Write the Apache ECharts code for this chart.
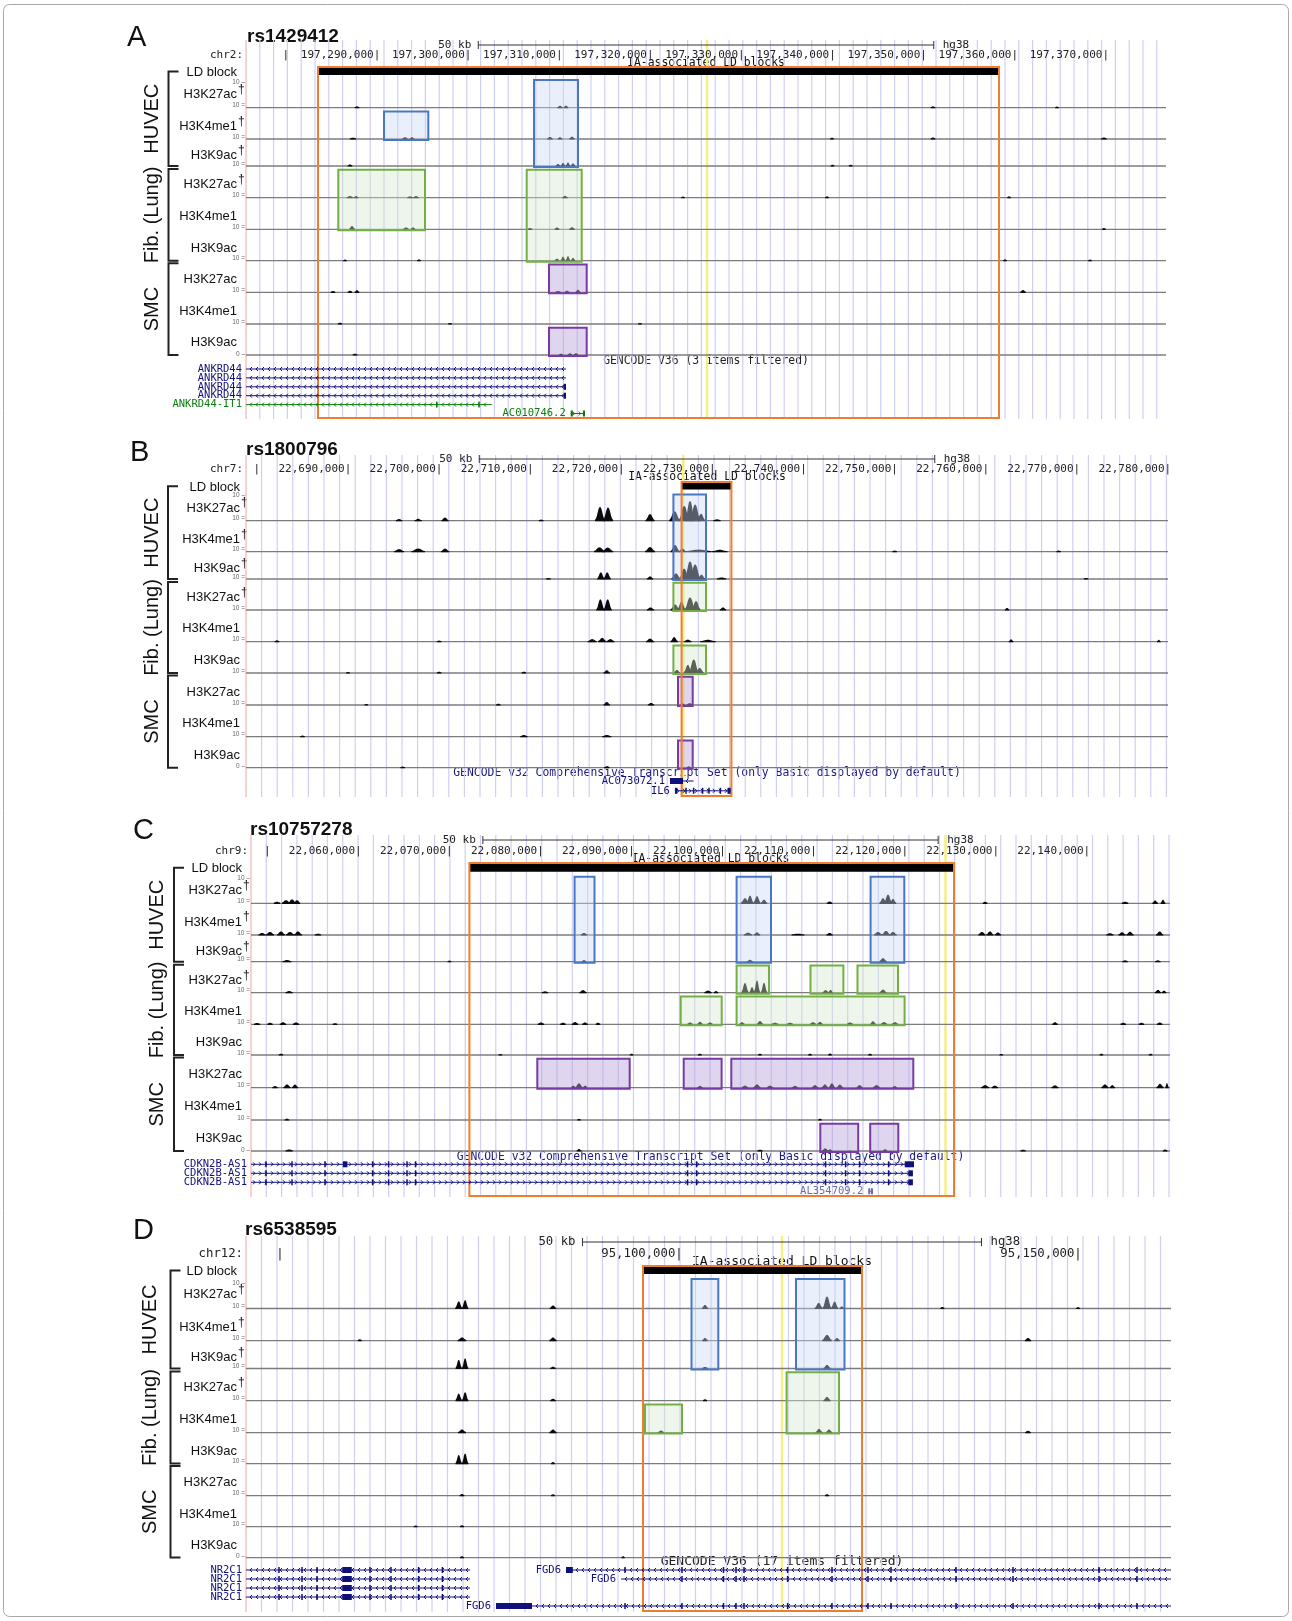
<!DOCTYPE html>
<html>
<head>
<meta charset="utf-8">
<title>IA-associated LD blocks</title>
<script src="https://cdn.jsdelivr.net/npm/echarts@6/dist/echarts.min.js"></script>
<style>
html, body { margin: 0; padding: 0; background: #fff; }
#chart { width: 1292px; height: 1621px; }
</style>
</head>
<body>
<div id="chart"></div>
<script>
// ---------- data ----------
const TRACK_MARKS = ['H3K27ac', 'H3K4me1', 'H3K9ac', 'H3K27ac', 'H3K4me1', 'H3K9ac', 'H3K27ac', 'H3K4me1', 'H3K9ac']
const TRACK_DAGGER = [true, true, true, true, false, false, false, false, false]
const CELL_TYPES = ['HUVEC', 'Fib. (Lung)', 'SMC']
const LD_TRACK_TITLE = 'IA-associated LD blocks'

// panel A  rs1429412
const A_SNP = 'rs1429412'
const A_CHR = 'chr2'
const A_RANGE = [197275620, 197376608]
const A_RULER = [197280000, 197290000, 197300000, 197310000, 197320000, 197330000, 197340000, 197350000, 197360000, 197370000]
const A_LD = [197283523, 197358277]
const A_SNP_POS = 197326225
const A_GENCODE = 'GENCODE V36 (3 items filtered)'
// [start, end, first track, last track, cell type]
const A_BOXES = [
  [197290768, 197295631, 1, 1, 0], [197307234, 197312064, 0, 2, 0],
  [197285752, 197295269, 3, 4, 1], [197306432, 197312469, 3, 5, 1],
  [197308880, 197313019, 6, 6, 2], [197308880, 197313019, 8, 8, 2]
]
// per track: [centre bp, width bp, signal 0-10]
const A_PEAKS = [
  [[197287805, 500, 0.3], [197310088, 600, 0.5], [197310746, 500, 0.6], [197351032, 500, 0.3], [197364643, 400, 0.2]],
  [[197287365, 700, 0.3], [197293073, 600, 0.5], [197293842, 500, 0.5], [197308990, 600, 0.6], [197310088, 500, 0.5], [197311405, 600, 0.7], [197339945, 400, 0.3], [197351032, 500, 0.4], [197369800, 600, 0.4]],
  [[197287036, 500, 0.4], [197309868, 500, 0.6], [197310417, 500, 1.0], [197310966, 500, 1.2], [197311515, 500, 0.8], [197340000, 400, 0.3], [197342000, 400, 0.3]],
  [[197287036, 700, 0.4], [197287700, 500, 0.4], [197293622, 600, 0.3], [197294281, 600, 0.4], [197310637, 600, 0.5], [197323590, 400, 0.2], [197339397, 400, 0.3], [197359375, 400, 0.3]],
  [[197287256, 600, 1.1], [197293183, 600, 0.5], [197293952, 500, 0.5], [197306795, 500, 0.3], [197309759, 500, 0.5], [197311405, 600, 0.6], [197369800, 400, 0.3]],
  [[197309759, 500, 0.6], [197310417, 500, 1.4], [197310966, 500, 1.6], [197311515, 500, 0.9], [197286487, 400, 0.2], [197294610, 400, 0.3], [197358936, 400, 0.3], [197368266, 400, 0.2]],
  [[197285170, 500, 0.3], [197287036, 500, 0.4], [197287805, 500, 0.6], [197309868, 600, 0.3], [197310856, 500, 0.4], [197312064, 500, 0.8], [197360912, 600, 0.7]],
  [[197285938, 500, 0.3], [197298013, 400, 0.2], [197318869, 400, 0.2]],
  [[197287585, 500, 0.3], [197310198, 500, 0.3], [197311186, 500, 0.5], [197311845, 500, 0.5]]
]
const A_GENES = [
  { name: 'ANKRD44', s: 197250000, e: 197310746, row: 0, strand: -1, col: 0 },
  { name: 'ANKRD44', s: 197250000, e: 197310746, row: 1, strand: -1, col: 0 },
  { name: 'ANKRD44', s: 197250000, e: 197310746, row: 2, strand: -1, col: 0, blocks: [[197310500, 197310746]] },
  { name: 'ANKRD44', s: 197250000, e: 197310746, row: 3, strand: -1, col: 0, blocks: [[197310500, 197310746]] },
  { name: 'ANKRD44-IT1', s: 197250000, e: 197302591, row: 4, strand: -1, col: 1, exons: [197296553, 197301196] },
  { name: 'AC010746.2', s: 197311262, e: 197312832, row: 5, strand: 1, col: 1, blocks: [[197311262, 197311500], [197312600, 197312832]] }
]

// panel B  rs1800796
const B_SNP = 'rs1800796'
const B_CHR = 'chr7'
const B_RANGE = [22678800, 22780008]
const B_RULER = [22680000, 22690000, 22700000, 22710000, 22720000, 22730000, 22740000, 22750000, 22760000, 22770000, 22780000]
const B_LD = [22726615, 22732083]
const B_SNP_POS = 22726800
const B_GENCODE = 'GENCODE v32 Comprehensive Transcript Set (only Basic displayed by default)'
const B_BOXES = [
  [22725716, 22729295, 0, 2, 0], [22725716, 22729295, 3, 3, 1], [22725716, 22729295, 5, 5, 1],
  [22726221, 22727834, 6, 6, 2], [22726221, 22727834, 8, 8, 2]
]
const B_PEAKS = [
  [[22695600, 700, 0.4], [22697700, 800, 0.5], [22700640, 800, 1.0], [22711200, 500, 0.2], [22717660, 1100, 5.2], [22718540, 1100, 5.0], [22723150, 1000, 2.4], [22725850, 1200, 3.5], [22726900, 1200, 5.6], [22727540, 1100, 7.6], [22728100, 1200, 6.2], [22728750, 900, 2.5], [22730500, 800, 0.3]],
  [[22695600, 1100, 0.8], [22697700, 1500, 1.0], [22700650, 900, 1.0], [22717600, 1200, 1.5], [22718500, 1200, 1.4], [22723150, 1100, 1.6], [22725900, 1000, 2.4], [22726700, 800, 1.0], [22728500, 2800, 0.6], [22730800, 1700, 0.5], [22750000, 500, 0.2], [22768000, 500, 0.2]],
  [[22712000, 500, 0.2], [22717750, 800, 2.4], [22718450, 800, 2.4], [22723150, 700, 0.8], [22726000, 1000, 2.0], [22726900, 1100, 3.9], [22727540, 1200, 6.8], [22728100, 1200, 5.6], [22728800, 800, 1.5], [22731000, 1000, 0.4], [22771000, 500, 0.2]],
  [[22717700, 900, 4.0], [22718500, 900, 4.0], [22723200, 800, 0.8], [22725900, 1000, 2.0], [22726600, 900, 3.1], [22727540, 1200, 4.8], [22728200, 1000, 3.3], [22731160, 700, 0.8], [22762340, 500, 0.6]],
  [[22682200, 500, 0.3], [22700000, 500, 0.2], [22716800, 1000, 0.8], [22717900, 900, 1.3], [22718800, 900, 0.8], [22723150, 900, 1.0], [22725800, 800, 1.6], [22727300, 800, 0.6], [22729500, 1700, 0.5], [22762780, 500, 0.7], [22779000, 400, 0.5]],
  [[22690000, 400, 0.2], [22700000, 500, 0.3], [22709300, 500, 0.3], [22718400, 700, 0.9], [22726100, 700, 1.0], [22727300, 900, 3.0], [22727950, 1100, 5.2], [22728600, 900, 1.8]],
  [[22692000, 400, 0.2], [22706500, 500, 0.3], [22718400, 700, 1.0], [22723260, 700, 0.6], [22726700, 600, 0.4], [22727500, 700, 0.5]],
  [[22685000, 500, 0.2], [22709300, 800, 0.4], [22718400, 1000, 0.4]],
  [[22696000, 500, 0.2], [22718400, 600, 0.3], [22727400, 500, 0.3]]
]
const B_GENES = [
  { name: 'AC073072.1', s: 22725343, e: 22727933, row: 0, strand: -1, col: 0, blocks: [[22725343, 22726770]] },
  { name: 'IL6', s: 22725884, e: 22732002, row: 1, strand: 1, col: 0, blocks: [[22725884, 22726150], [22731650, 22732002]], exons: [22727099, 22727933, 22728921, 22729624, 22730876] }
]

// panel C  rs10757278
const C_SNP = 'rs10757278'
const C_CHR = 'chr9'
const C_RANGE = [22048210, 22149135]
const C_RULER = [22050000, 22060000, 22070000, 22080000, 22090000, 22100000, 22110000, 22120000, 22130000, 22140000]
const C_LD = [22072195, 22125415]
const C_SNP_POS = 22124478
const C_GENCODE = 'GENCODE v32 Comprehensive Transcript Set (only Basic displayed by default)'
const C_BOXES = [
  [22083748, 22085934, 0, 2, 0], [22101538, 22105316, 0, 2, 0], [22116254, 22119955, 0, 2, 0],
  [22101538, 22105096, 3, 3, 1], [22109654, 22113267, 3, 3, 1], [22114815, 22119263, 3, 3, 1],
  [22095400, 22099903, 4, 4, 1], [22101538, 22119988, 4, 4, 1],
  [22079651, 22089798, 6, 6, 2], [22095730, 22099892, 6, 6, 2], [22100957, 22120944, 6, 6, 2],
  [22110730, 22114893, 8, 8, 2], [22116211, 22119297, 8, 8, 2]
]
const C_PEAKS = [
  [[22051065, 700, 0.4], [22052054, 900, 1.0], [22052713, 900, 1.3], [22053262, 700, 1.0], [22102461, 900, 1.8], [22103010, 800, 2.8], [22103779, 800, 2.6], [22104548, 700, 1.2], [22111750, 600, 0.5], [22117617, 800, 1.8], [22118166, 900, 3.2], [22118715, 700, 1.5], [22128830, 500, 0.4], [22144200, 700, 0.4], [22147500, 600, 0.9], [22148367, 500, 1.2]],
  [[22049418, 800, 0.6], [22050297, 900, 1.0], [22051505, 900, 1.2], [22052493, 900, 1.0], [22053372, 900, 1.2], [22055568, 700, 0.3], [22084780, 700, 0.6], [22102790, 900, 0.7], [22103780, 700, 0.8], [22108283, 1400, 0.3], [22111750, 700, 0.6], [22117067, 900, 1.0], [22117946, 900, 1.4], [22118715, 800, 1.0], [22128479, 800, 1.0], [22129358, 800, 1.2], [22130236, 700, 0.8], [22142545, 800, 0.5], [22143863, 800, 0.9], [22144742, 800, 1.1], [22148000, 800, 1.2]],
  [[22052164, 1000, 0.4], [22070000, 400, 0.2], [22084780, 500, 0.4], [22103010, 700, 0.5], [22117617, 800, 1.2], [22144200, 600, 0.3], [22147800, 600, 0.3]],
  [[22052400, 800, 0.4], [22080497, 700, 0.3], [22084670, 800, 0.8], [22098398, 800, 0.6], [22099277, 500, 0.4], [22102461, 800, 3.6], [22103230, 600, 2.0], [22103779, 700, 4.6], [22104548, 700, 3.7], [22111311, 700, 0.8], [22111860, 500, 0.9], [22117617, 800, 1.0], [22147816, 700, 0.9], [22148477, 500, 0.6]],
  [[22048869, 700, 0.3], [22050297, 600, 0.4], [22051724, 700, 0.6], [22053152, 700, 0.5], [22057435, 500, 0.2], [22080058, 700, 0.5], [22082474, 600, 0.4], [22083792, 700, 0.7], [22084890, 600, 0.5], [22086318, 500, 0.4], [22096423, 600, 0.5], [22097521, 600, 0.8], [22098620, 600, 0.5], [22102130, 600, 0.6], [22104108, 700, 1.1], [22105755, 700, 0.4], [22107403, 700, 0.4], [22109929, 700, 0.6], [22110697, 600, 0.8], [22113992, 700, 0.5], [22116518, 600, 1.0], [22117726, 700, 0.7], [22118934, 700, 0.6], [22136503, 600, 0.6], [22144000, 600, 0.4], [22146000, 600, 0.4], [22148000, 600, 0.5]],
  [[22051500, 500, 0.3], [22075600, 400, 0.2], [22090000, 400, 0.3], [22097500, 400, 0.3], [22104100, 400, 0.3], [22109600, 400, 0.3], [22111800, 400, 0.4], [22116200, 400, 0.3], [22130600, 400, 0.2], [22141600, 400, 0.3], [22147000, 400, 0.3]],
  [[22050846, 600, 0.4], [22052164, 800, 1.1], [22053042, 700, 1.0], [22083600, 500, 0.6], [22084230, 800, 1.5], [22084900, 500, 0.6], [22097521, 600, 0.5], [22102461, 700, 0.6], [22103779, 800, 1.1], [22105206, 700, 0.6], [22107952, 700, 0.5], [22110148, 700, 0.8], [22111237, 700, 1.1], [22112006, 700, 1.5], [22112884, 700, 1.0], [22115045, 700, 0.8], [22116913, 800, 0.8], [22118900, 500, 0.4], [22128830, 900, 0.8], [22129900, 700, 0.6], [22136503, 800, 0.7], [22141994, 800, 1.1], [22142800, 600, 0.8], [22148040, 800, 1.3], [22148800, 400, 1.6]],
  [[22052164, 500, 0.3], [22084230, 400, 0.2], [22110697, 400, 0.3]],
  [[22052400, 800, 0.4], [22084230, 500, 0.6], [22104108, 600, 0.3], [22111270, 700, 0.8], [22111800, 400, 0.5], [22117836, 500, 0.5], [22133000, 600, 0.3], [22148600, 500, 0.4]]
]
const C_EXONS = [22049857, 22052713, 22056337, 22061564, 22063321, 22065342, 22066286, 22096155, 22097144, 22111311, 22113507, 22115045, 22118230]
const C_GENES = [
  { name: 'CDKN2B-AS1', s: 22000000, e: 22121020, row: 0, strand: 1, col: 0, exons: C_EXONS, blocks: [[22058300, 22058800], [22120000, 22121020]] },
  { name: 'CDKN2B-AS1', s: 22000000, e: 22120900, row: 1, strand: 1, col: 0, exons: C_EXONS, blocks: [[22120400, 22120900]] },
  { name: 'CDKN2B-AS1', s: 22000000, e: 22120900, row: 2, strand: 1, col: 0, exons: C_EXONS, blocks: [[22120400, 22120900]] },
  { name: 'AL354709.2', s: 22116000, e: 22116400, row: 3, strand: 0, col: 2, blocks: [[22116000, 22116100], [22116300, 22116400]] }
]

// panel D  rs6538595
const D_SNP = 'rs6538595'
const D_CHR = 'chr12'
const D_RANGE = [95045745, 95161648]
const D_RULER = [95050000, 95100000, 95150000]
const D_LD = [95095489, 95122930]
const D_SNP_POS = 95112906
const D_GENCODE = 'GENCODE V36 (17 items filtered)'
const D_BOXES = [
  [95101567, 95104925, 0, 2, 0], [95114660, 95120737, 0, 2, 0],
  [95095740, 95100376, 4, 4, 1], [95113483, 95120049, 3, 4, 1]
]
const D_PEAKS = [
  [[95072400, 900, 2.6], [95073200, 800, 3.1], [95084212, 800, 1.0], [95103258, 800, 1.2], [95117500, 1000, 2.0], [95118544, 1100, 4.6], [95119500, 900, 2.5], [95120400, 600, 0.6], [95133000, 500, 0.4], [95150000, 500, 0.3]],
  [[95060000, 500, 0.3], [95072810, 1100, 1.0], [95084212, 900, 1.0], [95103258, 700, 0.8], [95118544, 1200, 2.0], [95119800, 700, 0.8], [95143730, 800, 0.8]],
  [[95072400, 800, 3.2], [95073200, 800, 3.8], [95084212, 700, 0.5], [95103258, 700, 0.4], [95118544, 900, 1.2]],
  [[95072400, 800, 2.6], [95073200, 800, 3.1], [95084212, 700, 0.5], [95103258, 500, 0.3], [95118544, 900, 1.2]],
  [[95072810, 1000, 1.0], [95084212, 900, 1.0], [95097745, 800, 0.6], [95117543, 900, 1.2], [95118800, 800, 1.0], [95143730, 700, 0.5]],
  [[95072400, 800, 3.2], [95073200, 800, 3.8], [95084212, 500, 0.4]],
  [[95072810, 600, 0.4], [95084212, 500, 0.3], [95118544, 500, 0.3]],
  [[95067000, 500, 0.2], [95072810, 500, 0.3]],
  [[95072810, 500, 0.3], [95093000, 400, 0.3]]
]
const NR2C1_EXONS = [95049880, 95052762, 95054642, 95061282, 95063914, 95067372, 95070354]
const FGD6_EXONS = [95093234, 95100376, 95105576, 95107143, 95108145, 95113610, 95119170, 95123682, 95126564, 95134708, 95141850, 95152626, 95157387]
const D_GENES = [
  { name: 'NR2C1', s: 95000000, e: 95073812, row: 0, strand: -1, col: 0, exons: NR2C1_EXONS, blocks: [[95057800, 95059000]] },
  { name: 'NR2C1', s: 95000000, e: 95073812, row: 1, strand: -1, col: 0, exons: NR2C1_EXONS, blocks: [[95057800, 95059000]] },
  { name: 'NR2C1', s: 95000000, e: 95073812, row: 2, strand: -1, col: 0, exons: NR2C1_EXONS, blocks: [[95057800, 95059000]] },
  { name: 'NR2C1', s: 95000000, e: 95073812, row: 3, strand: -1, col: 0, exons: NR2C1_EXONS, blocks: [[95057800, 95059000]] },
  { name: 'FGD6', s: 95085841, e: 95200000, row: 0, strand: -1, col: 0, exons: FGD6_EXONS, blocks: [[95085841, 95086700]] },
  { name: 'FGD6', s: 95092733, e: 95200000, row: 1, strand: -1, col: 0, exons: FGD6_EXONS.slice(1) },
  { name: 'FGD6', s: 95077070, e: 95200000, row: 4, strand: -1, col: 0, exons: FGD6_EXONS, blocks: [[95077070, 95081580]] }
]

// ---------- layout (pixels on the page) ----------
const LAYOUT = [
  { letter: 'A', left: 246, right: 1166, top: 40, bottom: 419, letterX: 127, letterY: 38, titleX: 247, titleY: 36.5, scaleY: 45, rulerY: 55, ldLabelY: 63, ldTop: 68, ldBot: 75,
    base: [107.7, 139, 166, 197.7, 229.3, 260.7, 292.3, 324, 355], gencodeY: 361.5, geneTop: 369, geneStep: 8.9, center: 706, gridStep: 13.8, labelRight: 237, bracketX: 168.5, cellX: 152.5, gencodeCol: '#222', mono: 11, monoWide: 11.4 },
  { letter: 'B', left: 246, right: 1168, top: 455, bottom: 797, letterX: 130, letterY: 453, titleX: 246, titleY: 449.5, scaleY: 459, rulerY: 469, ldLabelY: 477.5, ldTop: 483, ldBot: 489.5,
    base: [520.7, 551.7, 579, 610, 641.7, 673, 705, 736.7, 767.7], gencodeY: 773, geneTop: 781, geneStep: 9.8, center: 707, gridStep: 15.6, labelRight: 240, bracketX: 168, cellX: 152, gencodeCol: '#1a1a80', mono: 11, monoWide: 11.4 },
  { letter: 'C', left: 251, right: 1170, top: 835, bottom: 1197, letterX: 133, letterY: 831, titleX: 250, titleY: 829.5, scaleY: 840, rulerY: 851, ldLabelY: 859, ldTop: 864, ldBot: 871.7,
    base: [903.3, 935, 961.7, 992.7, 1024.3, 1055, 1087.7, 1120, 1151], gencodeY: 1157, geneTop: 1164.3, geneStep: 9, center: 710.5, gridStep: 15.3, labelRight: 242, bracketX: 174, cellX: 157, gencodeCol: '#1a1a80', mono: 11, monoWide: 11.4 },
  { letter: 'D', left: 246, right: 1171, top: 1236, bottom: 1612, letterX: 133, letterY: 1231, titleX: 245, titleY: 1230, scaleY: 1242, rulerY: 1254, ldLabelY: 1262, ldTop: 1267, ldBot: 1274,
    base: [1308.5, 1340.6, 1368.5, 1400.6, 1432.6, 1463.6, 1495.6, 1526.6, 1557.6], gencodeY: 1562, geneTop: 1570, geneStep: 9, center: 782, gridStep: 15.5, labelRight: 237, bracketX: 170.5, cellX: 150, gencodeCol: '#222', mono: 12.3, monoWide: 13 }
]

const PANELS = [
  { snp: A_SNP, chr: A_CHR, range: A_RANGE, ruler: A_RULER, ld: A_LD, snpPos: A_SNP_POS, gencode: A_GENCODE, boxes: A_BOXES, peaks: A_PEAKS, genes: A_GENES },
  { snp: B_SNP, chr: B_CHR, range: B_RANGE, ruler: B_RULER, ld: B_LD, snpPos: B_SNP_POS, gencode: B_GENCODE, boxes: B_BOXES, peaks: B_PEAKS, genes: B_GENES },
  { snp: C_SNP, chr: C_CHR, range: C_RANGE, ruler: C_RULER, ld: C_LD, snpPos: C_SNP_POS, gencode: C_GENCODE, boxes: C_BOXES, peaks: C_PEAKS, genes: C_GENES },
  { snp: D_SNP, chr: D_CHR, range: D_RANGE, ruler: D_RULER, ld: D_LD, snpPos: D_SNP_POS, gencode: D_GENCODE, boxes: D_BOXES, peaks: D_PEAKS, genes: D_GENES }
]

// ---------- styles ----------
const MONO_FAMILY = '"DejaVu Sans Mono", monospace'
const GENE_FONT = '10.5px "DejaVu Sans Mono", monospace'
const SANS = '"Liberation Sans", Arial, sans-serif'
const UNIT_PX = 2.5 // pixels per signal unit (track scale 0-10)
const BOX_STROKE = ['#4a76c6', '#72b043', '#7a3aa6']
const BOX_FILL = ['rgba(202,217,245,0.4)', 'rgba(212,230,202,0.4)', 'rgba(185,162,217,0.45)']
const GENE_COL = ['#10107a', '#0b7d0b', '#6b6bb5']

function txt(x, y, s, font, fill, align, extra) {
  return Object.assign({
    type: 'text', x: x, y: y, silent: true,
    style: { text: s, font: font, fill: fill, textAlign: align, textVerticalAlign: 'middle', align: align, verticalAlign: 'middle' }
  }, extra || {})
}

function fmt(v) {
  return String(v).replace(/\B(?=(\d{3})+(?!\d))/g, ',')
}

const grids = []
const xAxes = []
const yAxes = []
const series = []
const graphics = []

PANELS.forEach((P, p) => {
  const L = LAYOUT[p]
  const Y = v => v - L.top
  const MONO = L.mono + 'px ' + MONO_FAMILY
  const MONO_WIDE = L.monoWide + 'px ' + MONO_FAMILY
  const charW = L.mono * 0.602
  grids.push({ left: L.left, top: L.top, width: L.right - L.left, height: L.bottom - L.top })
  xAxes.push({ type: 'value', gridIndex: p, min: P.range[0], max: P.range[1], show: false })
  yAxes.push({ type: 'value', gridIndex: p, min: 0, max: L.bottom - L.top, inverse: true, show: false })
  const base = { type: 'custom', xAxisIndex: p, yAxisIndex: p, silent: true, clip: false, animation: false }
  const bpPerPx = (P.range[1] - P.range[0]) / (L.right - L.left)

  // guide lines
  const guides = []
  for (let x = L.gridStep; x < L.right - L.left; x += L.gridStep) guides.push([P.range[0] + x * bpPerPx, 0])
  series.push(Object.assign({}, base, {
    z: 1, data: guides,
    renderItem: (params, api) => {
      const a = api.coord([api.value(0), 0])
      const b = api.coord([api.value(0), L.bottom - L.top])
      return { type: 'line', shape: { x1: a[0], y1: a[1], x2: b[0], y2: b[1] }, style: { stroke: '#cfcff4', lineWidth: 1.2 } }
    }
  }))
  // left edge + SNP line
  series.push(Object.assign({}, base, {
    z: 2, data: [[P.range[0], 0], [P.snpPos, 1]],
    renderItem: (params, api) => {
      const a = api.coord([api.value(0), 0])
      const b = api.coord([api.value(0), L.bottom - L.top])
      const snp = api.value(1) === 1
      return { type: 'line', shape: { x1: a[0], y1: a[1], x2: b[0], y2: b[1] }, style: { stroke: snp ? '#f4ef86' : '#f4b4b4', lineWidth: snp ? 2.5 : 1.2 } }
    }
  }))
  // track baselines
  series.push(Object.assign({}, base, {
    z: 3, data: L.base.map((b, i) => [P.range[0], i]),
    renderItem: (params, api) => {
      const y = Y(L.base[api.value(1)])
      const a = api.coord([P.range[0], y])
      const b = api.coord([P.range[1], y])
      return { type: 'line', shape: { x1: a[0], y1: a[1], x2: b[0], y2: b[1] }, style: { stroke: '#7c7c7c', lineWidth: 1.3 } }
    }
  }))
  // signal peaks (rounded bumps, like the binned signal of the browser)
  const peaks = []
  P.peaks.forEach((arr, t) => arr.forEach(pk => peaks.push([pk[0], pk[1], pk[2], t])))
  series.push(Object.assign({}, base, {
    z: 4, data: peaks,
    renderItem: (params, api) => {
      const c = api.value(0)
      const w = api.value(1)
      const h = api.value(2)
      const y0 = Y(L.base[api.value(3)])
      const pts = [api.coord([c - w / 2, y0 + 0.6])]
      for (let i = 0; i <= 16; i++) {
        const u = i / 16 - 0.5
        const f = Math.exp(-Math.pow(Math.abs(u) / 0.3, 2.5))
        pts.push(api.coord([c + u * w, y0 - h * UNIT_PX * f - 0.6]))
      }
      pts.push(api.coord([c + w / 2, y0 + 0.6]))
      return { type: 'polygon', shape: { points: pts }, style: { fill: '#0a0a0a' } }
    }
  }))
  // enhancer boxes
  series.push(Object.assign({}, base, {
    z: 5, data: P.boxes,
    renderItem: (params, api) => {
      const t0 = api.value(2)
      const t1 = api.value(3)
      const k = api.value(4)
      const top = t0 === 0 ? L.ldBot + 5 : L.base[t0 - 1] + 3.8
      const a = api.coord([api.value(0), Y(top)])
      const b = api.coord([api.value(1), Y(L.base[t1] + 1)])
      return { type: 'rect', shape: { x: a[0], y: a[1], width: b[0] - a[0], height: b[1] - a[1] }, style: { fill: BOX_FILL[k], stroke: BOX_STROKE[k], lineWidth: 2 } }
    }
  }))
  // LD block bar + orange frame
  series.push(Object.assign({}, base, {
    z: 6, data: [[P.ld[0], P.ld[1]]],
    renderItem: (params, api) => {
      const a = api.coord([api.value(0), Y(L.ldTop)])
      const b = api.coord([api.value(1), Y(L.ldBot)])
      const c = api.coord([api.value(1), Y(L.bottom - 1)])
      return {
        type: 'group', children: [
          { type: 'rect', shape: { x: a[0], y: a[1], width: b[0] - a[0], height: b[1] - a[1] }, style: { fill: '#000' } },
          { type: 'rect', shape: { x: a[0], y: a[1] - 1, width: c[0] - a[0], height: c[1] - a[1] + 1 }, style: { fill: 'none', stroke: '#ee7d31', lineWidth: 2 } }
        ]
      }
    }
  }))
  // ruler labels
  series.push(Object.assign({}, base, {
    z: 7, data: P.ruler.map(v => [v, 0]),
    renderItem: (params, api) => {
      const v = api.value(0)
      const pt = api.coord([v, Y(L.rulerY)])
      const label = fmt(v) + '|'
      const fits = pt[0] - label.length * charW > L.left
      return { type: 'text', x: pt[0] + charW / 2, y: pt[1], style: { text: fits ? label : '|', font: MONO, fill: '#222', textAlign: 'right', textVerticalAlign: 'middle', align: 'right', verticalAlign: 'middle' } }
    }
  }))
  // 50 kb scale bar
  const centreBp = P.range[0] + (L.center - L.left) * bpPerPx
  series.push(Object.assign({}, base, {
    z: 7, data: [[centreBp, 0]],
    renderItem: (params, api) => {
      const a = api.coord([api.value(0) - 25000, Y(L.scaleY)])
      const b = api.coord([api.value(0) + 25000, Y(L.scaleY)])
      const st = { stroke: '#333', lineWidth: 1 }
      return {
        type: 'group', children: [
          { type: 'line', shape: { x1: a[0], y1: a[1], x2: b[0], y2: b[1] }, style: st },
          { type: 'line', shape: { x1: a[0], y1: a[1] - 4, x2: a[0], y2: a[1] + 4 }, style: st },
          { type: 'line', shape: { x1: b[0], y1: b[1] - 4, x2: b[0], y2: b[1] + 4 }, style: st },
          { type: 'text', x: a[0] - 7, y: a[1], style: { text: '50 kb', font: MONO, fill: '#222', textAlign: 'right', textVerticalAlign: 'middle', align: 'right', verticalAlign: 'middle' } },
          { type: 'text', x: b[0] + 9, y: b[1], style: { text: 'hg38', font: MONO, fill: '#222', textAlign: 'left', textVerticalAlign: 'middle', align: 'left', verticalAlign: 'middle' } }
        ]
      }
    }
  }))
  // gene models
  series.push(Object.assign({}, base, {
    z: 7, data: P.genes.map(g => [g.s, g.row]),
    renderItem: (params, api) => {
      const g = P.genes[params.dataIndex]
      const col = GENE_COL[g.col]
      const y = Y(L.geneTop + g.row * L.geneStep)
      const a = api.coord([Math.max(g.s, P.range[0]), y])
      const b = api.coord([Math.min(g.e, P.range[1]), y])
      const ch = [{ type: 'line', shape: { x1: a[0], y1: a[1], x2: b[0], y2: b[1] }, style: { stroke: col, lineWidth: 1 } }]
      if (g.strand) {
        for (let x = a[0] + 4; x < b[0] - 2; x += 6) {
          const d = g.strand < 0 ? 2 : -2
          ch.push({ type: 'polyline', shape: { points: [[x + d, a[1] - 2], [x, a[1]], [x + d, a[1] + 2]] }, style: { stroke: col, lineWidth: 1, fill: 'none' } })
        }
      }
      const exons = g.exons || []
      exons.forEach(e => {
        if (e < P.range[0] || e > P.range[1]) return
        const c = api.coord([e, y])
        ch.push({ type: 'rect', shape: { x: c[0] - 0.75, y: c[1] - 3, width: 1.5, height: 6 }, style: { fill: col } })
      })
      const blocks = g.blocks || []
      blocks.forEach(bl => {
        const c0 = api.coord([bl[0], y])
        const c1 = api.coord([bl[1], y])
        ch.push({ type: 'rect', shape: { x: c0[0], y: c0[1] - 3, width: Math.max(2, c1[0] - c0[0]), height: 6 }, style: { fill: col } })
      })
      const lx = g.s <= P.range[0] ? L.left - 4 : a[0] - 5
      ch.push({ type: 'text', x: lx, y: a[1], style: { text: g.name, font: GENE_FONT, fill: col, textAlign: 'right', textVerticalAlign: 'middle', align: 'right', verticalAlign: 'middle' } })
      return { type: 'group', children: ch }
    }
  }))

  // ---- labels outside the plotting area ----
  graphics.push(txt(L.letterX, L.letterY, L.letter, '29px ' + SANS, '#111', 'left'))
  graphics.push(txt(L.titleX, L.titleY, P.snp, 'bold 19px ' + SANS, '#111', 'left'))
  graphics.push(txt(L.left - 3, L.rulerY, P.chr + ':', MONO, '#222', 'right'))
  graphics.push(txt(L.center, L.ldLabelY, LD_TRACK_TITLE, MONO_WIDE, '#111', 'center'))
  graphics.push(txt(L.center, L.gencodeY, P.gencode, MONO_WIDE, L.gencodeCol, 'center'))
  graphics.push(txt(L.labelRight, (L.ldTop + L.ldBot) / 2 + 1, 'LD block', '13px ' + SANS, '#111', 'right'))
  TRACK_MARKS.forEach((m, i) => {
    const prev = i === 0 ? L.ldBot : L.base[i - 1]
    const yc = (prev + L.base[i]) / 2 + 3
    graphics.push(txt(L.labelRight, yc, m, '13px ' + SANS, '#111', 'right'))
    if (TRACK_DAGGER[i]) graphics.push(txt(L.labelRight + 1, yc - 5, '†', '12px ' + SANS, '#111', 'left'))
    const sc = i === 0 ? '10 –' : '10 ='
    graphics.push(txt(L.left - 1, i === 0 ? L.base[0] - 25 : L.base[i - 1] - 2, sc, '6.5px ' + SANS, '#666', 'right'))
  })
  graphics.push(txt(L.left - 1, L.base[8] - 1, '0 –', '6.5px ' + SANS, '#666', 'right'))
  const spans = [
    [(L.ldTop + L.ldBot) / 2, L.base[2]],
    [L.base[2] + 3, L.base[5]],
    [L.base[5] + 2.5, L.base[8]]
  ]
  spans.forEach((sp, k) => {
    const x0 = L.bracketX
    graphics.push({ type: 'polyline', silent: true, shape: { points: [[x0 + 10, sp[0]], [x0, sp[0]], [x0, sp[1]], [x0 + 10, sp[1]]] }, style: { stroke: '#222', lineWidth: 2, fill: 'none' } })
    graphics.push(txt(L.cellX, (sp[0] + sp[1]) / 2, CELL_TYPES[k], '20px ' + SANS, '#111', 'center', { rotation: Math.PI / 2 }))
  })
})

graphics.push({ type: 'rect', silent: true, z: -1, shape: { x: 3.5, y: 4.5, width: 1285, height: 1612, r: 6 }, style: { fill: 'none', stroke: '#a8a8a8', lineWidth: 1 } })

const chart = echarts.init(document.getElementById('chart'), null, { renderer: 'canvas' })
chart.setOption({
  animation: false,
  backgroundColor: '#fff',
  grid: grids,
  xAxis: xAxes,
  yAxis: yAxes,
  series: series,
  graphic: { elements: graphics }
})
</script>
</body>
</html>
